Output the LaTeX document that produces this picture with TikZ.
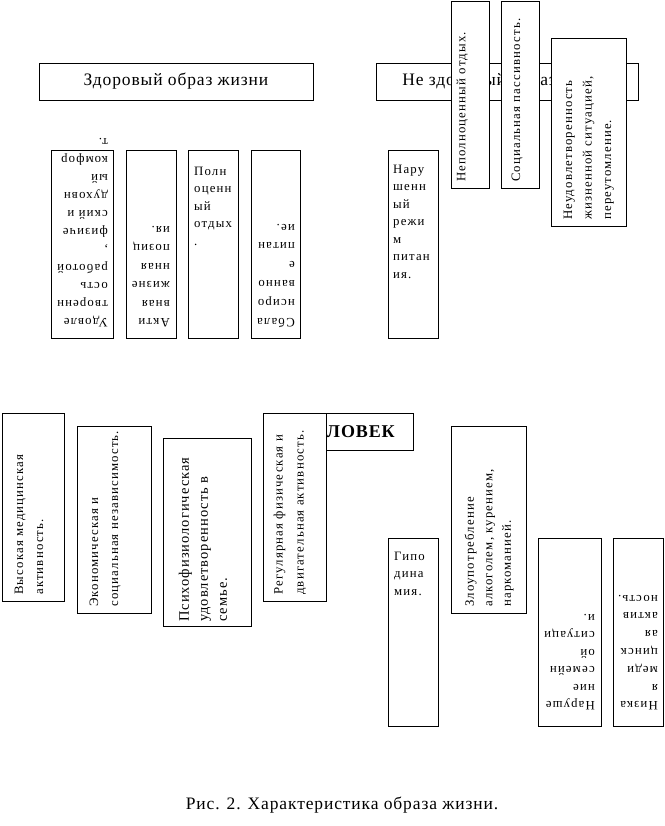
\documentclass[tikz,border=0pt]{standalone}
\usepackage{fontspec}
\setmainfont{Liberation Serif}
\newfontfamily\spfont[LetterSpace=9]{Liberation Serif}
\newfontfamily\psfont[LetterSpace=7]{Liberation Serif}
\newfontfamily\hdfont[LetterSpace=5]{Liberation Serif}
\begin{document}
\begin{tikzpicture}[x=1pt,y=-1pt,
  box/.style={draw, line width=0.8pt, fill=white, inner sep=0pt, anchor=north west},
  txt/.style={inner sep=0pt, anchor=north west, align=left, font=\spfont\fontsize{12.8}{#1}\selectfont},
  txt/.default=18,
  hd/.style={draw, line width=0.8pt, fill=white, inner sep=0pt, font=\hdfont\fontsize{17.5}{20}\selectfont}]
\fill[white] (0,0) rectangle (664,826);
\useasboundingbox (0,0) rectangle (664,826);
\newcommand\mybox[5]{\node[box, minimum width={(#4-#2)*1pt}, minimum height={(#5-#3)*1pt}] (#1) at (#2,#3) {};}

% headers
\node[hd, minimum width=274pt, minimum height=37pt] (hz) at (176,81.5) {Здоровый образ жизни};
\node[hd, minimum width=262pt, minimum height=37pt] (nz) at (507,81.5) {Не здоровый образ жизни};

% top small boxes (healthy)
\mybox{s1}{51}{150}{113}{338}
\node[txt=18, rotate=180] (s1t) at (108,327.5) {Удовле\\творенн\\ость\\работой\\,\\физиче\\ский и\\духовн\\ый\\комфор\\т.};
\mybox{s2}{126}{150}{176}{338}
\node[txt=18.5, rotate=180] (s2t) at (170,327.5) {Акти\\вная\\жизне\\нная\\позиц\\ия.};
\mybox{s3}{188}{150}{238}{338}
\node[txt=17.5] (s3t) at (194,166.5) {Полн\\оценн\\ый\\отдых\\.};
\mybox{s4}{251}{150}{300}{338}
\node[txt=18.8, rotate=180] (s4t) at (295,327.5) {Сбала\\нсиро\\ванно\\е\\питан\\ие.};

% unhealthy top
\mybox{s5}{388}{150}{438}{338}
\node[txt=17.5] (s5t) at (393,164.5) {Нару\\шенн\\ый\\режи\\м\\питан\\ия.};
\mybox{t1}{451}{1}{489}{188}
\node[txt, rotate=90] (t1t) at (456.5,182) {Неполноценный отдых.};
\mybox{t2}{501}{1}{539}{188}
\node[txt, rotate=90] (t2t) at (511.5,182) {Социальная пассивность.};
\mybox{t3}{551}{38}{626}{226}
\node[txt=19.5, rotate=90] (t3t) at (563.5,220) {Неудовлетворенность\\жизненной ситуацией,\\переутомление.};

% center header
\node[box, minimum width=150pt, minimum height=37pt] (ch) at (263,413) {};
\node[inner sep=0pt, anchor=east, font=\hdfont\bfseries\fontsize{18}{20}\selectfont] (cht) at (395,431.5) {ЧЕЛОВЕК};

% bottom left
\mybox{b1}{2}{413}{64}{601}
\node[txt=20, rotate=90] (b1t) at (14.5,595) {Высокая медицинская\\активность.};
\mybox{b2}{77}{426}{151}{613}
\node[txt=20, rotate=90] (b2t) at (89.5,607) {Экономическая и\\социальная независимость.};
\mybox{b3}{163}{438}{251}{626}
\node[inner sep=0pt, anchor=north west, align=left, font=\psfont\fontsize{14.5}{19}\selectfont, rotate=90] (b3t) at (178.5,622) {Психофизиологическая\\удовлетворенность в\\семье.};
\mybox{b4}{263}{413}{326}{601}
\node[txt=21, rotate=90] (b4t) at (273.5,595) {Регулярная физическая и\\двигательная активность.};

% bottom right
\mybox{b5}{388}{538}{438}{726}
\node[txt=17.5] (b5t) at (394,551.5) {Гипо\\дина\\мия.};
\mybox{b6}{451}{426}{526}{613}
\node[txt=18.5, rotate=90] (b6t) at (464.5,607) {Злоупотребление\\алкоголем, курением,\\наркоманией.};
\mybox{b7}{538}{538}{601}{726}
\node[txt=17.5, rotate=180] (b7t) at (595,710.5) {Наруше\\ние\\семейн\\ой\\ситуаци\\и.};
\mybox{b8}{613}{538}{663}{726}
\node[txt=17.8, rotate=180] (b8t) at (658,710.5) {Низка\\я\\меди\\цинск\\ая\\актив\\ность.};

% caption
\node[inner sep=0pt, font=\hdfont\fontsize{17.5}{20}\selectfont] (cap) at (342,805) {Рис. 2. Характеристика образа жизни.};
\end{tikzpicture}
\end{document}
